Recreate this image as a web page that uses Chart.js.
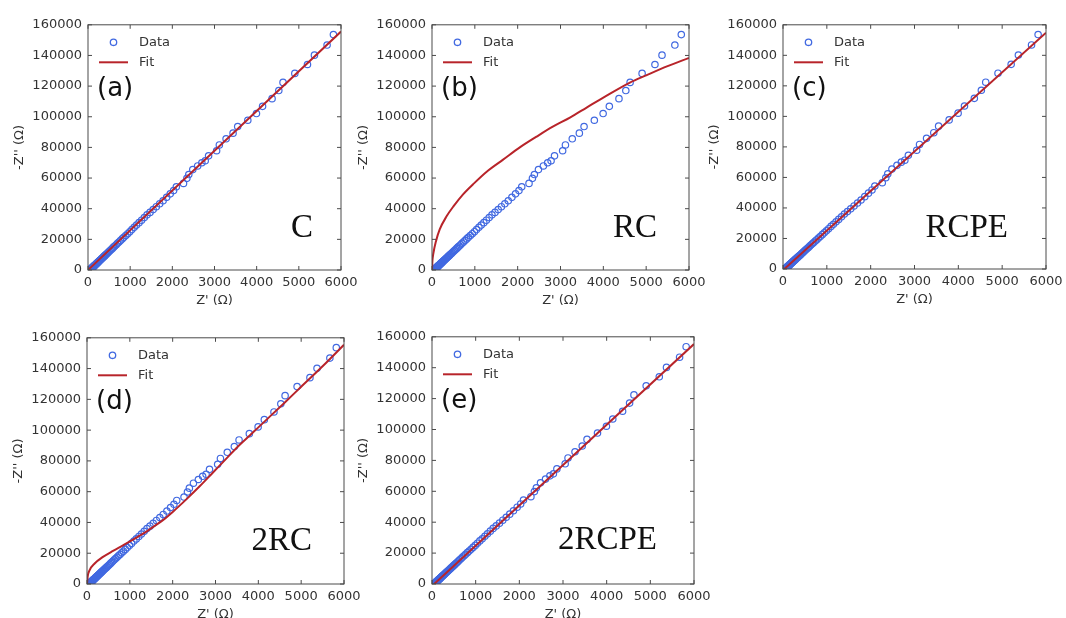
<!DOCTYPE html>
<html>
<head>
<meta charset="utf-8">
<script src="https://cdn.jsdelivr.net/npm/chart.js@4.4.1/dist/chart.umd.min.js"></script>
<style>
  html, body { margin: 0; padding: 0; background: #fff; width: 1066px; height: 618px; overflow: hidden; }
  canvas { position: absolute; }
</style>
</head>
<body>
<canvas id="pa"></canvas>
<canvas id="pb"></canvas>
<canvas id="pc"></canvas>
<canvas id="pd"></canvas>
<canvas id="pe"></canvas>
<script>
/* measured impedance (same in every panel) */
const dataX = [70, 74, 78, 82, 86, 90, 95, 99, 104, 109, 114, 119, 124, 129, 135, 141, 147, 153, 160, 167,
  174, 182, 190, 198, 207, 216, 226, 237, 248, 259, 271, 284, 297, 311, 326, 342, 358, 375, 393, 412,
  432, 454, 476, 500, 525, 551, 578, 606, 636, 668, 700, 735, 770, 810, 850, 895, 940, 990, 1040, 1095,
  1150, 1210, 1270, 1335, 1400, 1470, 1545, 1620, 1700, 1780, 1865, 1950, 2030, 2095, 2265, 2345, 2390, 2485, 2600, 2700,
  2780, 2860, 3050, 3115, 3275, 3440, 3550, 3790, 3995, 4140, 4365, 4525, 4625, 4905, 5205, 5370, 5670, 5820];
const dataY = [650, 750, 850, 950, 1100, 1200, 1300, 1400, 1550, 1700, 1800, 1950, 2100, 2200, 2400, 2550, 2700, 2850, 3050, 3200,
  3400, 3600, 3850, 4050, 4300, 4500, 4800, 5100, 5350, 5650, 6000, 6300, 6650, 7050, 7450, 7850, 8300, 8700, 9200, 9700,
  10250, 10800, 11400, 12050, 12700, 13400, 14100, 14900, 15700, 16500, 17400, 18300, 19200, 20300, 21300, 22500, 23700, 25000, 26400, 27900,
  29300, 30900, 32500, 34200, 36000, 37600, 39400, 41300, 43200, 45200, 47400, 49700, 51800, 54300, 56500, 59800, 62300, 65500, 67900, 70000,
  71300, 74500, 77800, 81600, 85600, 89300, 93600, 97700, 102100, 106800, 111800, 117100, 122400, 128300, 134100, 140200, 146800, 153600];

/* fitted curves */
const fitCX = [0, 6000];
const fitCY = [0, 155600];
const fitRCX = [0, 10, 30, 90, 180, 340, 500, 730, 960, 1270, 1660, 2050, 2440, 2820, 3220, 3610, 4000, 4620, 5000, 5500, 6000];
const fitRCY = [0, 6000, 10500, 18500, 26500, 35000, 41500, 49500, 56000, 64000, 72000, 80000, 87000, 93500, 99500, 106000, 112500, 122300, 127000, 133000, 138400];
const fitRCPEX = [30, 6000];
const fitRCPEY = [0, 154800];
const fit2RCX = [0, 15, 62, 179, 373, 607, 840, 1074, 1307, 1540, 1773, 2007, 2318, 2630, 2941, 3252, 3566, 3800, 4000, 4600, 5000, 5500, 6000];
const fit2RCY = [0, 4700, 9000, 13300, 17600, 21500, 25100, 28800, 32700, 37000, 41500, 47000, 55000, 63500, 72500, 81500, 90500, 96500, 101800, 117500, 128200, 141500, 155500];
const fit2RCPEX = [50, 6000];
const fit2RCPEY = [0, 155300];

const panelTags = ['(a)', '(b)', '(c)', '(d)', '(e)'];
const modelNames = ['C', 'RC', 'RCPE', '2RC', '2RCPE'];

const BLUE = '#4169e1', RED = '#b8242a', INK = '#333';
const TICK_FONT = { family: 'DejaVu Sans', size: 13 };

// plot boxes [left, top, right, bottom] in page pixels
const panels = [
  { id: 'pa', fx: fitCX, fy: fitCY, box: [88, 23, 341, 270] },
  { id: 'pb', fx: fitRCX, fy: fitRCY, box: [432, 23, 689, 270] },
  { id: 'pc', fx: fitRCPEX, fy: fitRCPEY, box: [783, 23, 1046, 269] },
  { id: 'pd', fx: fit2RCX, fy: fit2RCY, box: [87, 336, 344, 584] },
  { id: 'pe', fx: fit2RCPEX, fy: fit2RCPEY, box: [432, 335, 694, 584] },
];

const decor = {
  id: 'decor',
  afterDatasetsDraw(chart, args, opts) {
    const { ctx, chartArea: a, scales: { x, y } } = chart;
    ctx.save();
    // frame + inward ticks on all sides
    ctx.strokeStyle = '#4a4a4a'; ctx.lineWidth = 1;
    ctx.strokeRect(a.left, a.top, a.width, a.height);
    ctx.beginPath();
    x.ticks.forEach(t => {
      const px = x.getPixelForValue(t.value);
      ctx.moveTo(px, a.bottom); ctx.lineTo(px, a.bottom - 4);
      ctx.moveTo(px, a.top); ctx.lineTo(px, a.top + 4);
    });
    y.ticks.forEach(t => {
      const py = y.getPixelForValue(t.value);
      ctx.moveTo(a.left, py); ctx.lineTo(a.left + 4, py);
      ctx.moveTo(a.right, py); ctx.lineTo(a.right - 4, py);
    });
    ctx.stroke();
    // legend
    ctx.strokeStyle = BLUE; ctx.lineWidth = 1.3;
    ctx.beginPath(); ctx.arc(a.left + 25.5, a.top + 17.5, 3.2, 0, Math.PI * 2); ctx.stroke();
    ctx.strokeStyle = RED; ctx.lineWidth = 2;
    ctx.beginPath(); ctx.moveTo(a.left + 11, a.top + 37.5); ctx.lineTo(a.left + 40, a.top + 37.5); ctx.stroke();
    ctx.fillStyle = INK; ctx.font = '13px "DejaVu Sans"'; ctx.textBaseline = 'middle'; ctx.textAlign = 'left';
    ctx.fillText('Data', a.left + 51, a.top + 17.5);
    ctx.fillText('Fit', a.left + 51, a.top + 37.5);
    // panel tag and model name
    ctx.fillStyle = '#111';
    ctx.font = '26px "DejaVu Sans"';
    ctx.fillText(opts.tag, a.left + 9, a.top + 64);
    ctx.font = '33px "Liberation Serif"'; ctx.textAlign = 'right'; ctx.textBaseline = 'alphabetic';
    ctx.fillText(opts.model, a.left + 225, a.top + 212);
    ctx.restore();
  }
};

const plain = v => String(v);

panels.forEach((p, i) => {
  const [l, t, r, b] = p.box;
  const cv = document.getElementById(p.id);
  cv.width = r - l + 104; cv.height = b - t + 52;
  cv.style.left = (l - 80) + 'px'; cv.style.top = (t - 12) + 'px';
  new Chart(cv.getContext('2d'), {
    type: 'scatter',
    data: {
      datasets: [
        { label: 'Fit', data: p.fx.map((v, k) => ({ x: v, y: p.fy[k] })), showLine: true, borderColor: RED, borderWidth: 2,
          pointRadius: 0, cubicInterpolationMode: 'monotone', order: 0 },
        { label: 'Data', data: dataX.map((v, k) => ({ x: v, y: dataY[k] })), pointRadius: 3.2, pointBorderWidth: 1.2,
          pointBorderColor: BLUE, pointBackgroundColor: 'rgba(0,0,0,0)', showLine: false, order: 1 },
      ]
    },
    options: {
      responsive: false, animation: false, events: [],
      layout: { padding: { left: 0, top: 12, right: 24, bottom: 0 } },
      plugins: { legend: { display: false }, tooltip: { enabled: false },
        decor: { tag: panelTags[i], model: modelNames[i] } },
      scales: {
        x: { type: 'linear', min: 0, max: 6000, grid: { display: false, drawTicks: false }, border: { display: false },
          ticks: { stepSize: 1000, font: TICK_FONT, color: INK, padding: 5, maxRotation: 0, callback: plain },
          title: { display: true, text: "Z' (Ω)", font: TICK_FONT, color: INK, padding: { top: 0, bottom: 2 } },
          afterFit: s => { s.height = 40; } },
        y: { type: 'linear', min: 0, max: 160000, grid: { display: false, drawTicks: false }, border: { display: false },
          ticks: { stepSize: 20000, font: TICK_FONT, color: INK, padding: 6, callback: plain },
          title: { display: true, text: "-Z'' (Ω)", font: TICK_FONT, color: INK, padding: { top: 3.5, bottom: 0 } },
          afterFit: s => { s.width = 80; } }
      }
    },
    plugins: [decor]
  });
});
</script>
</body>
</html>
